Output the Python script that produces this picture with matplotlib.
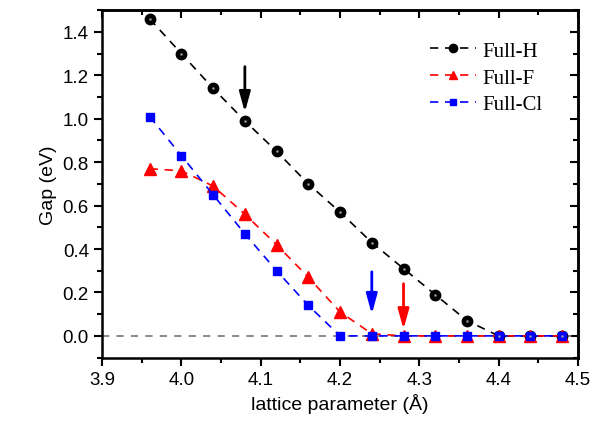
import matplotlib
matplotlib.use("Agg")
from matplotlib import pyplot as plt
from matplotlib.ticker import MultipleLocator

a = [3.96, 4.00, 4.04, 4.08, 4.12, 4.16, 4.20, 4.24, 4.28, 4.32, 4.36, 4.40, 4.44, 4.48]
gap_h = [1.46, 1.30, 1.14, 0.99, 0.85, 0.70, 0.57, 0.43, 0.31, 0.19, 0.07, 0.0, 0.0, 0.0]
gap_f = [0.77, 0.76, 0.69, 0.56, 0.42, 0.27, 0.11, 0.01, 0.0, 0.0, 0.0, 0.0, 0.0, 0.0]
gap_cl = [1.01, 0.83, 0.65, 0.47, 0.30, 0.14, 0.0, 0.0, 0.0, 0.0, 0.0, 0.0, 0.0, 0.0]

# arrows: x, start, end, color
arrows = [(4.08, 1.24, 1.03, 'k'), (4.24, 0.295, 0.10, 'b'), (4.28, 0.24, 0.03, 'r')]

plt.rcParams['font.family'] = ['Liberation Sans', 'DejaVu Sans']
fig = plt.figure(figsize=(6.04, 4.31), dpi=100)
ax = fig.add_axes([0.169, 0.168, 0.788, 0.806])

ax.axhline(0, color='gray', ls=(0, (4, 4)), lw=1.3, zorder=1)

ax.plot(a, gap_h, ls=(0, (5, 4)), color='k', lw=1.2, marker='o', ms=7.5, mfc='k', mec='k', label='Full-H', zorder=3)
ax.plot(a, gap_h, ls='none', marker='o', ms=1.8, mfc='#9a9a9a', mec='none', zorder=4)
ax.plot(a, gap_f, ls=(0, (5, 4)), color='r', lw=1.2, marker='^', ms=8, mfc='r', mec='r', label='Full-F', zorder=3)
ax.plot(a, gap_cl, ls=(0, (5, 4)), color='b', lw=1.2, marker='s', ms=6, mfc='b', mec='b', label='Full-Cl', zorder=3)

for x, y0, y1, c in arrows:
    ax.annotate('', xy=(x, y1), xytext=(x, y0),
                arrowprops=dict(arrowstyle='-|>,head_length=0.8,head_width=0.22', color=c, lw=2,
                                mutation_scale=15, shrinkA=0, shrinkB=0))

ax.set_xlim(3.9, 4.5)
ax.set_ylim(-0.1, 1.5)
ax.xaxis.set_major_locator(MultipleLocator(0.1))
ax.xaxis.set_minor_locator(MultipleLocator(0.05))
ax.set_yticks([0.0, 0.2, 0.4, 0.6, 0.8, 1.0, 1.2, 1.4])
ax.yaxis.set_minor_locator(MultipleLocator(0.1))
ax.tick_params(which='both', direction='out', width=1.5, labelsize=13.5)
ax.tick_params(which='major', length=6)
ax.tick_params(which='minor', length=3.5)
for s in ax.spines.values():
    s.set_linewidth(1.8)

# inward ticks on top and right
top = ax.secondary_xaxis('top')
top.xaxis.set_major_locator(MultipleLocator(0.1))
top.xaxis.set_minor_locator(MultipleLocator(0.05))
right = ax.secondary_yaxis('right')
right.yaxis.set_major_locator(MultipleLocator(0.2))
right.yaxis.set_minor_locator(MultipleLocator(0.1))
for sec in (top, right):
    sec.tick_params(which='both', direction='in', width=1.5, labelsize=0)
    sec.tick_params(which='major', length=6)
    sec.tick_params(which='minor', length=3.5)
    for s in sec.spines.values():
        s.set_linewidth(1.8)
top.set_xticklabels([])
right.set_yticklabels([])

ax.set_xlabel('lattice parameter (Å)', fontsize=14)
ax.set_ylabel('Gap (eV)', fontsize=14)

ax.legend(loc='upper right', bbox_to_anchor=(0.965, 0.965), frameon=False,
          prop={'family': 'Liberation Serif', 'size': 15}, handlelength=2.2,
          handletextpad=0.3, labelspacing=0.35, markerscale=0.8)

plt.savefig('out.png', dpi=100)
